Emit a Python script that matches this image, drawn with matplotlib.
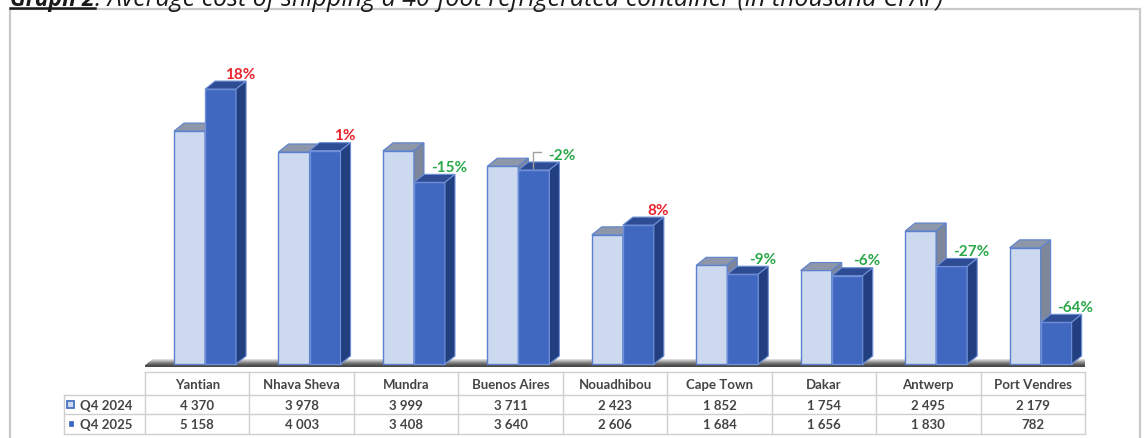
import numpy as np
import matplotlib
matplotlib.use('Agg')
import matplotlib.pyplot as plt
from matplotlib.patches import Polygon, Rectangle

ports = ['Yantian', 'Nhava Sheva', 'Mundra', 'Buenos Aires', 'Nouadhibou',
         'Cape Town', 'Dakar', 'Antwerp', 'Port Vendres']
q4_2024 = [4370, 3978, 3999, 3711, 2423, 1852, 1754, 2495, 2179]
q4_2025 = [5158, 4003, 3408, 3640, 2606, 1684, 1656, 1830, 782]
series = ['Q4 2024', 'Q4 2025']

W, H = 1144, 439
fig = plt.figure(figsize=(W / 100, H / 100), dpi=100)


def px_box(x0, y0, x1, y1):
    # pixel box, origin top-left -> figure fraction
    return [x0 / W, 1 - y1 / H, (x1 - x0) / W, (y1 - y0) / H]


# overlay axes in pixel units for frame, title and table
tax = fig.add_axes([0, 0, 1, 1], zorder=0)
tax.set_xlim(0, W)
tax.set_ylim(H, 0)
tax.axis('off')

# chart axes
ax = fig.add_axes(px_box(145, 10, 1085, 370), zorder=1)
ax.axis('off')

bw = 0.297
dx, dy = 0.096, 150
x = np.arange(len(ports))
x_light = x - 0.222
x_dark = x + 0.075

# floor slab with gradient
fx0, fx1 = -0.52, 8.62
floor = Polygon([(fx0, -55), (fx1, -55), (fx1 + dx, -55 + dy), (fx0 + dx, -55 + dy)],
                closed=True, fc='none', ec='none')
ax.add_patch(floor)
grad = np.linspace(0, 1, 64).reshape(-1, 1)
img = ax.imshow(grad, cmap=matplotlib.colors.LinearSegmentedColormap.from_list(
    'fl', ['#333333', '#7a7a7a', '#e8e8e8']), aspect='auto',
    extent=[fx0, fx1 + dx, -55, -55 + dy], origin='lower', zorder=1)
img.set_clip_path(floor)
ax.set_xlim(-0.5, 8.5)
ax.set_ylim(-94, 6660)

styles = [
    dict(front='#cdd9ee', top='#8e97aa', side='#7e8699', edge='#5c82cf'),
    dict(front='#4068c0', top='#2e4c93', side='#22407f', edge='#6f90d8'),
]

for xs, vals, st, z in [(x_light, q4_2024, styles[0], 3), (x_dark, q4_2025, styles[1], 4)]:
    ax.bar(xs, vals, width=bw, align='edge', color=st['front'],
           edgecolor=st['edge'], linewidth=1, zorder=z)
    for x0, h in zip(xs, vals):
        ax.add_patch(Polygon([(x0, h), (x0 + dx, h + dy), (x0 + bw + dx, h + dy), (x0 + bw, h)],
                             fc=st['top'], ec=st['edge'], lw=0.8, zorder=z))
        ax.add_patch(Polygon([(x0 + bw, 0), (x0 + bw + dx, dy), (x0 + bw + dx, h + dy), (x0 + bw, h)],
                             fc=st['side'], ec=st['edge'], lw=0.8, zorder=z))

# percentage change labels
nudge = {3: 0.08}
for i, (a, b) in enumerate(zip(q4_2024, q4_2025)):
    pct = int(round((b / a - 1) * 100))
    col = '#e8232b' if pct > 0 else '#2aa84a'
    lx = i + 0.41 + nudge.get(i, 0)
    ly = b + 290
    ax.text(lx, ly, f'{pct}%', color=col, fontsize=11, fontweight='bold',
            family=['Lato', 'DejaVu Sans'], ha='center', va='center', zorder=6)
    if i in nudge:
        ax.plot([i + 0.216, i + 0.216, i + 0.293], [b + dy * 0.2, b + 340, b + 340],
                color='#a0a0a0', lw=1, zorder=6)

# frame
tax.add_patch(Rectangle((9.5, 10), 1130, 440, fc='none', ec='#c9c9c9', lw=1.6))

# title, its upper part cut at the top edge as in the source
tfont = ['Open Sans', 'DejaVu Sans']
t1 = tax.text(10, 6, 'Graph 2', fontsize=16.5, fontstyle='italic', fontweight='bold',
              family=tfont, va='baseline', ha='left', color='#1a1a1a')
fig.canvas.draw()
r = fig.canvas.get_renderer()
bb = t1.get_window_extent(r)
x_end = tax.transData.inverted().transform((bb.x1, bb.y0))[0]
tax.plot([10, x_end], [8.5, 8.5], color='#1a1a1a', lw=1.8)
tax.text(x_end, 6, ': Average cost of shipping a 40-foot refrigerated container (in thousand CFAF)',
         fontsize=18, fontstyle='italic', family=tfont, va='baseline', ha='left', color='#1a1a1a')

# data table
tx0, tx1 = 145, 1085
cw = (tx1 - tx0) / len(ports)
ly0, y_head, y_r1, y_r2, y_bot = 64, 373, 396, 415, 435
gcol = '#cfcfcf'
tfam = ['Lato', 'DejaVu Sans']
tcol = '#454545'
tfs = 9.5

tax.plot([tx0, tx1], [y_head, y_head], color=gcol, lw=1)
for yy in [y_r1, y_r2, y_bot]:
    tax.plot([ly0, tx1], [yy, yy], color=gcol, lw=1)
tax.plot([ly0, ly0], [y_r1, y_bot], color=gcol, lw=1)
for k in range(len(ports) + 1):
    xx = tx0 + k * cw
    tax.plot([xx, xx], [y_head, y_bot], color=gcol, lw=1)


def fmt(v):
    return f'{v:,}'.replace(',', ' ')


for k, name in enumerate(ports):
    cx = tx0 + (k + 0.5) * cw
    tax.text(cx, (y_head + y_r1) / 2 + 0.5, name, ha='center', va='center', fontsize=tfs,
             fontweight='bold', family=tfam, color=tcol)
    tax.text(cx, (y_r1 + y_r2) / 2 + 0.5, fmt(q4_2024[k]), ha='center', va='center', fontsize=tfs,
             fontweight='bold', family=tfam, color=tcol)
    tax.text(cx, (y_r2 + y_bot) / 2 + 0.5, fmt(q4_2025[k]), ha='center', va='center', fontsize=tfs,
             fontweight='bold', family=tfam, color=tcol)

# legend keys in table
tax.add_patch(Rectangle((67, 402), 7, 7, fc='#cdd9ee', ec='#4a72c4', lw=1.3))
tax.add_patch(Rectangle((68.5, 422.5), 4.5, 4.5, fc='#3e66bf', ec='#3e66bf', lw=0.5))
tax.text(80, (y_r1 + y_r2) / 2 + 0.5, series[0], ha='left', va='center', fontsize=tfs,
         fontweight='bold', family=tfam, color=tcol)
tax.text(80, (y_r2 + y_bot) / 2 + 0.5, series[1], ha='left', va='center', fontsize=tfs,
         fontweight='bold', family=tfam, color=tcol)

fig.savefig('out.png', dpi=100)
